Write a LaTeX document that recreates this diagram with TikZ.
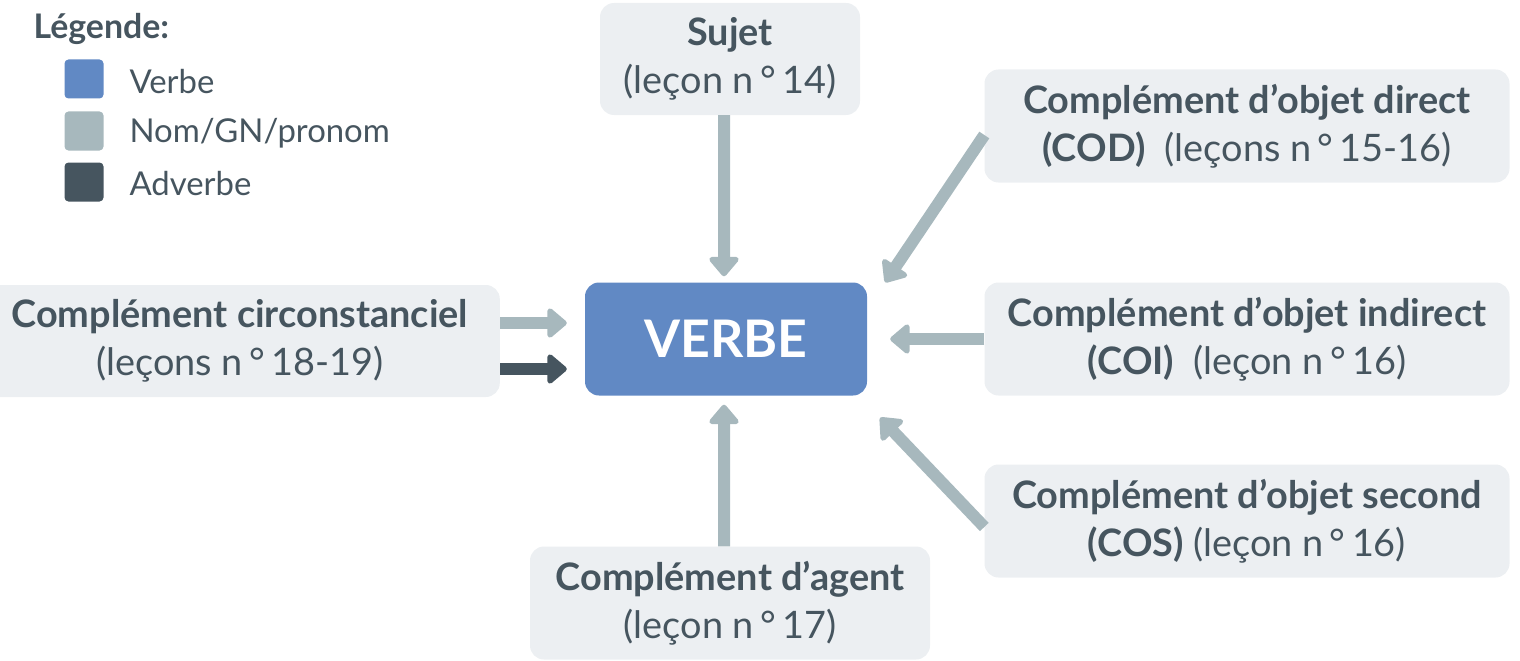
\documentclass[tikz,border=0pt]{standalone}
\usepackage{fontspec}
\setmainfont{Lato}
\usetikzlibrary{arrows.meta}

\definecolor{verbblue}{HTML}{6189C4}
\definecolor{nomgray}{HTML}{A7B8BD}
\definecolor{advdark}{HTML}{46555F}
\definecolor{boxgray}{HTML}{ECEFF2}

\begin{document}
\begin{tikzpicture}[x=1bp, y=-1bp,
    every node/.style={text=advdark, font=\fontsize{38}{48}\selectfont},
    fn/.style={fill=boxgray, rounded corners=14bp, align=center, inner sep=0pt},
    legsq/.style={minimum size=39bp, inner sep=0pt, rounded corners=4bp},
    leglabel/.style={anchor=west, font=\fontsize{33}{38}\selectfont},
    arr/.style={draw=nomgray, line width=12bp,
        -{Triangle[width=34bp,length=21bp,round]}}]
    \useasboundingbox (0,0) rectangle (1520,661);

    % legende
    \node[anchor=west, font=\fontsize{34}{38}\bfseries] (legtitle) at (30,29) {Légende:};
    \node[legsq, fill=verbblue] (sqverbe) at (84,79) {};
    \node[legsq, fill=nomgray] (sqnom) at (84,131) {};
    \node[legsq, fill=advdark] (sqadv) at (84,182) {};
    \node[leglabel] at (126,82) {Verbe};
    \node[leglabel] at (126,133) {Nom/GN/pronom};
    \node[leglabel] at (126,184) {Adverbe};

    % boites
    \node[fill=verbblue, rounded corners=14bp, minimum width=282bp, minimum height=113bp,
        text=white, font=\fontsize{52}{56}\bfseries] (verbe) at (726,339) {VERBE};
    \node[fn, minimum width=260bp, minimum height=112bp] (sujet) at (730,59)
        {\textbf{Sujet}\\(leçon n\,°\,14)};
    \node[fn, minimum width=525bp, minimum height=113bp] (cod) at (1247,126)
        {\textbf{Complément d’objet direct}\\\textbf{(COD)}\ \ (leçons n\,°\,15-16)};
    \node[fn, minimum width=525bp, minimum height=113bp] (coi) at (1247,339)
        {\textbf{Complément d’objet indirect}\\\textbf{(COI)}\ \ (leçon n\,°\,16)};
    \node[fn, minimum width=525bp, minimum height=113bp] (cos) at (1247,521)
        {\textbf{Complément d’objet second}\\\textbf{(COS)} (leçon n\,°\,16)};
    \node[fn, minimum width=400bp, minimum height=113bp] (agent) at (730,603)
        {\textbf{Complément d’agent}\\(leçon n\,°\,17)};
    \node[fn, minimum width=520bp, minimum height=112bp, anchor=east] (circ) at (500,341)
        {\textbf{Complément circonstanciel}\\(leçons n\,°\,18-19)};

    % fleches
    \draw[arr] (sujet.south -| 724,0) -- ([xshift=-2bp,yshift=6bp]verbe.north);
    \draw[arr] (agent.north -| 724,0) -- ([xshift=-2bp,yshift=-9bp]verbe.south);
    \draw[arr] ([yshift=-9bp]cod.west) -- ([xshift=18bp]verbe.north east);
    \draw[arr] (coi.west) -- ([xshift=23bp]verbe.east);
    \draw[arr] ([yshift=-6bp]cos.west) -- ([xshift=13bp,yshift=-22bp]verbe.south east);
    \draw[arr] ([yshift=18bp]circ.east) -- ([yshift=18bp,xshift=-18bp]circ.east -| verbe.west);
    \draw[arr, draw=advdark] ([yshift=-28bp]circ.east) -- ([yshift=-28bp,xshift=-18bp]circ.east -| verbe.west);
\end{tikzpicture}
\end{document}
